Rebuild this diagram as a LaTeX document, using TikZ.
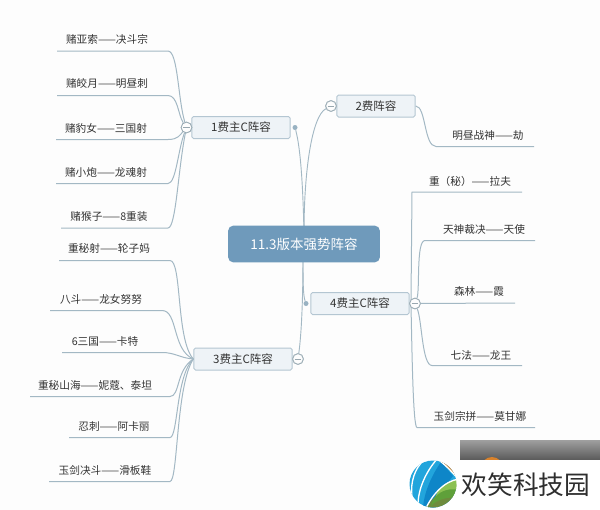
\documentclass[tikz,border=0pt]{standalone}
\usepackage{fontspec}
\setmainfont{Noto Sans CJK SC}
\definecolor{bgc}{HTML}{FDFDFD}
\definecolor{linec}{HTML}{A3B8C4}
\definecolor{boxf}{HTML}{EEF3F7}
\definecolor{boxd}{HTML}{B4C6D2}
\definecolor{rootc}{HTML}{6F9ABB}
\definecolor{txt}{HTML}{333333}
\definecolor{logoblue}{HTML}{0E86C8}
\definecolor{logosky}{HTML}{22A5DC}
\definecolor{logoorange}{HTML}{D9822B}
\definecolor{logolight}{HTML}{8CC152}
\definecolor{logomid}{HTML}{5FA03A}
\definecolor{logodark}{HTML}{6E8B3D}
\tikzset{
 x=0.6pt,y=-0.6pt,
 leaf/.style={font=\fontsize{6.4}{7}\selectfont,text=txt,inner sep=0pt,anchor=center},
 topic/.style={draw=boxd,fill=boxf,rounded corners=1pt,line width=0.6pt,minimum height=13.2pt,inner sep=0pt,font=\fontsize{6.9}{7}\selectfont,text=txt},
 root/.style={fill=rootc,rounded corners=3pt,minimum width=91pt,minimum height=22pt,inner sep=0pt,font=\fontsize{8.1}{9}\selectfont,text=white},
 conn/.style={draw=linec,line width=0.55pt},
 under/.style={draw=linec,line width=0.6pt},
 fold/.style={circle,draw=linec!80!gray,fill=bgc,line width=0.5pt,minimum size=6.4pt,inner sep=0pt},
 dotn/.style={circle,fill=linec!80!rootc,minimum size=3pt,inner sep=0pt}
}
\begin{document}
\begin{tikzpicture}
\fill[bgc] (0,0) rectangle (600,510);
\useasboundingbox (0,0) rectangle (600,510);
\coordinate (Rt) at (304,233);
\coordinate (Rb) at (303,255);
\node[topic,minimum width=59pt] (T1) at (241,127.5) {1费主C阵容};
\node[topic,minimum width=47pt] (T2) at (376,106) {2费阵容};
\node[topic,minimum width=59pt] (T3) at (243,359) {3费主C阵容};
\node[topic,minimum width=59pt] (T4) at (360,303.5) {4费主C阵容};
\node[fold] (F1) at (186.5,127.5) {};
\node[fold] (F2) at (331,106) {};
\node[fold] (F3) at (298,359) {};
\node[fold] (F4) at (415,303.5) {};
\node[dotn] (D1) at (295,127.5) {};
\node[dotn] (D4) at (306,303.5) {};
\draw[conn] (D1) .. controls (301,150) and (303,190) .. (Rt);
\draw[conn] (F2) .. controls (312,116) and (304,170) .. (Rt);
\draw[conn] (F3) .. controls (302,330) and (303,290) .. (Rb);
\draw[conn] (D4) .. controls (303,295) and (303,280) .. (Rb);
\node[root] (R) at (304,244) {11.3版本强势阵容};
% leaf texts
\node[leaf] (a1) at (107,39.5) {赌亚索——决斗宗};
\node[leaf] (a2) at (107,83.5) {赌皎月——明昼刺};
\node[leaf] (a3) at (106,128.5) {赌豹女——三国射};
\node[leaf] (a4) at (106,172.5) {赌小炮——龙魂射};
\node[leaf] (a5) at (109,216.5) {赌猴子——8重装};
\node[leaf] (c1) at (109,248.5) {重秘射——轮子妈};
\node[leaf] (c2) at (101,299) {八斗——龙女努努};
\node[leaf] (c3) at (105,341) {6三国——卡特};
\node[leaf] (c4) at (95,385) {重秘山海——妮蔻、泰坦};
\node[leaf] (c5) at (114,426.5) {忍刺——阿卡丽};
\node[leaf] (c6) at (105,470.5) {玉剑决斗——滑板鞋};
\node[leaf] (b1) at (488,135) {明昼战神——劫};
\node[leaf] (d1) at (470,181) {重（秘）——拉夫};
\node[leaf] (d2) at (484,229) {天神裁决——天使};
\node[leaf] (d3) at (479,291.5) {森林——霞};
\node[leaf] (d4) at (481,355) {七法——龙王};
\node[leaf] (d5) at (480,416) {玉剑宗拼——莫甘娜};
% underline ends
\foreach \n/\x/\y in {e1/57/51,e2/57/95.5,e3/56/139.5,e4/56/183.5,e5/61/228,
 g1/59/260.5,g2/50/310.5,g3/62/352.5,g4/30/396.5,g5/69/437.5,g6/49/481.5,
 h1/534/146.5,i1/522/192,i2/535/240.5,i3/515/303,i4/522/365.5,i5/535/427.5}
  \coordinate (\n) at (\x,\y);
% group 1
\draw[under] (e1) -- (168,51) .. controls (178,51) and (178,100) .. (F1);
\draw[under] (e2) -- (168,95.5) .. controls (178,95.5) and (178,115) .. (F1);
\draw[under] (e3) -- (168,139.5) .. controls (178,139.5) and (180,135) .. (F1);
\draw[under] (e4) -- (168,183.5) .. controls (176,183.5) and (178,150) .. (F1);
\draw[under] (e5) -- (168,228) .. controls (176,228) and (178,170) .. (F1);
% group 2
\draw[under] (T2.east) .. controls (426,106) and (424,146.5) .. (436,146.5) -- (h1);
% group 3
\draw[under] (g1) -- (170,260.5) .. controls (182,260.5) and (176,340) .. (T3.west);
\draw[under] (g2) -- (162,310.5) .. controls (178,310.5) and (172,350) .. (T3.west);
\draw[under] (g3) -- (162,352.5) .. controls (175,352.5) and (180,358) .. (T3.west);
\draw[under] (g4) -- (170,396.5) .. controls (180,396.5) and (176,370) .. (T3.west);
\draw[under] (g5) -- (170,437.5) .. controls (178,437.5) and (176,375) .. (T3.west);
\draw[under] (g6) -- (170,481.5) .. controls (178,481.5) and (176,385) .. (T3.west);
% group 4
\draw[under] (i1) -- (412,192) -- (411,300) -- (F4);
\draw[under] (i2) -- (425,240.5) .. controls (416,240.5) and (420,290) .. (F4);
\draw[under] (i3) -- (F4);
\draw[under] (i4) -- (432,365.5) .. controls (422,365.5) and (422,320) .. (F4);
\draw[under] (i5) -- (417,427.5) .. controls (413,427.5) and (412,350) .. (411,306);
% fold symbols
\foreach \f in {F1,F2,F3,F4}{
 \node[fold] at (\f) {};
 \draw[draw=linec!70!gray,line width=0.4pt] ([xshift=-2pt]\f.center) -- ([xshift=2pt]\f.center);
}
% watermark remnant
\shade[top color=gray!75,bottom color=black!65] (460,440) rectangle (600,460);
\begin{scope}
\clip (460,440) rectangle (600,460);
\fill[logoorange] (492,468) circle (11);
\end{scope}
\fill[white] (400,460) rectangle (600,510);
\node[inner sep=0pt,font=\fontsize{15.4}{17}\selectfont,text=black!82] (W) at (526,485) {欢笑科技园};
% logo
\begin{scope}
\clip (433,484) circle (23.5);
\fill[logosky] (409,460) rectangle (457,508);
% darker blue wedge
\fill[logoblue] (441,462) .. controls (432,475) and (424,492) .. (423,508) -- (437,508) .. controls (436,500) and (445,486) .. (453,476) -- cycle;
% orange cap
\fill[logoorange] (436,458) -- (459,458) -- (459,480) .. controls (452,472) and (446,465) .. cycle;
% greens
\fill[logodark] (459,490) -- (459,510) -- (425,510) .. controls (427,502) and (440,490) .. cycle;
\fill[logomid] (459,484) -- (459,498) .. controls (448,496) and (436,500) .. (431,506) .. controls (432,497) and (442,486) .. cycle;
\fill[logolight] (459,479) -- (459,490) .. controls (450,488) and (442,490) .. (436,496) .. controls (438,488) and (446,481) .. cycle;
% white seams
\draw[white,line width=0.8pt] (437,459) .. controls (425,473) and (418,490) .. (418,505);
\draw[white,line width=0.8pt] (424,460) .. controls (415,468) and (410,482) .. (412,497);
\draw[white,line width=0.8pt] (436,458) .. controls (446,465) and (452,472) .. (459,480);
\draw[white,line width=0.8pt] (459,479) .. controls (444,481) and (432,495) .. (425,510);
\end{scope}
\end{tikzpicture}
\end{document}
